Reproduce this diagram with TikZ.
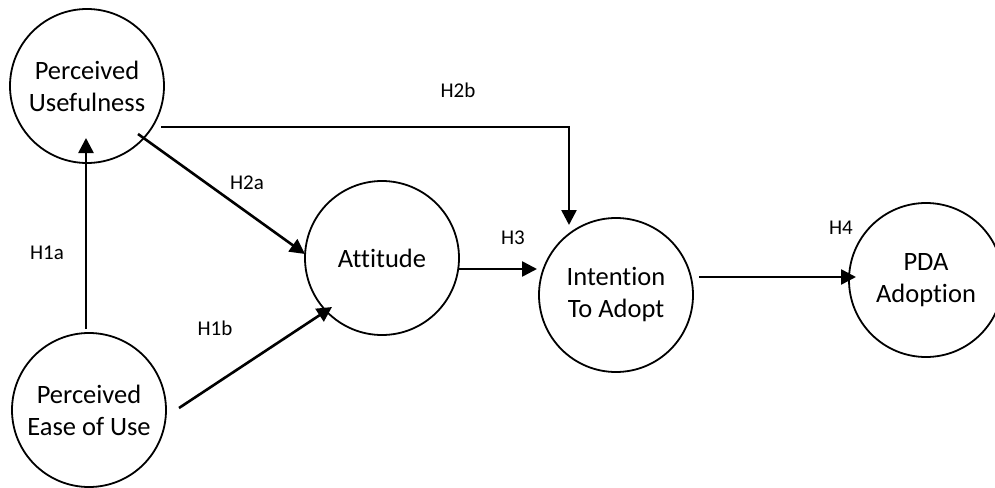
\documentclass[tikz,border=0pt]{standalone}
\usepackage{fontspec}
\setmainfont{Carlito}[Ligatures=NoCommon]
\usetikzlibrary{arrows.meta,calc}

\tikzset{
  construct/.style={circle, draw, line width=1.8pt, minimum size=154pt, inner sep=0pt,
    align=center, font=\fontsize{26.5}{32}\selectfont},
  path arrow/.style={line width=2.6pt, -{Triangle[length=15pt,width=15pt]}},
  hyp/.style={font=\fontsize{21}{24}\selectfont, inner sep=0pt},
}

\begin{document}
\begin{tikzpicture}[x=1pt, y=-1pt]
  \useasboundingbox (0,0) rectangle (995,487);

  % constructs
  \node[construct] (pu)   at (87,86)   {Perceived\\Usefulness};
  \node[construct] (peou) at (89,410)  {Perceived\\Ease of Use};
  \node[construct] (att)  at (382,258) {Attitude};
  \node[construct] (ita)  at (616,295) {Intention\\To Adopt};
  \node[construct] (pda)  at (926,280) {\raisebox{-9pt}{\begin{tabular}{@{}c@{}}PDA\\Adoption\end{tabular}}};

  % hypothesised paths
  \draw[path arrow] ($(peou)+(-3,-81)$) -- ($(pu)+(-1,52)$);
  \draw[path arrow] ($(peou)+(90,-2)$) -- ($(att)+(-50,49)$);
  \draw[path arrow] ($(pu)+(51,48)$) -- ($(att)+(-77,-4)$);
  \draw[path arrow] ($(pu)+(74,41)$) -| ($(ita)+(-47,-70)$);
  \draw[path arrow] ($(att)+(76,11)$) -- ($(ita)+(-79,-26)$);
  \draw[path arrow] ($(ita)+(83,-18)$) -- ($(pda)+(-70,-3)$);

  % hypothesis labels
  \node[hyp] (h1a) at (47,253)  {H1a};
  \node[hyp] (h1b) at (215,328) {H1b};
  \node[hyp] (h2a) at (247,183) {H2a};
  \node[hyp] (h2b) at (458,90)  {H2b};
  \node[hyp] (h3)  at (513,238) {H3};
  \node[hyp] (h4)  at (841,228) {H4};
\end{tikzpicture}
\end{document}
